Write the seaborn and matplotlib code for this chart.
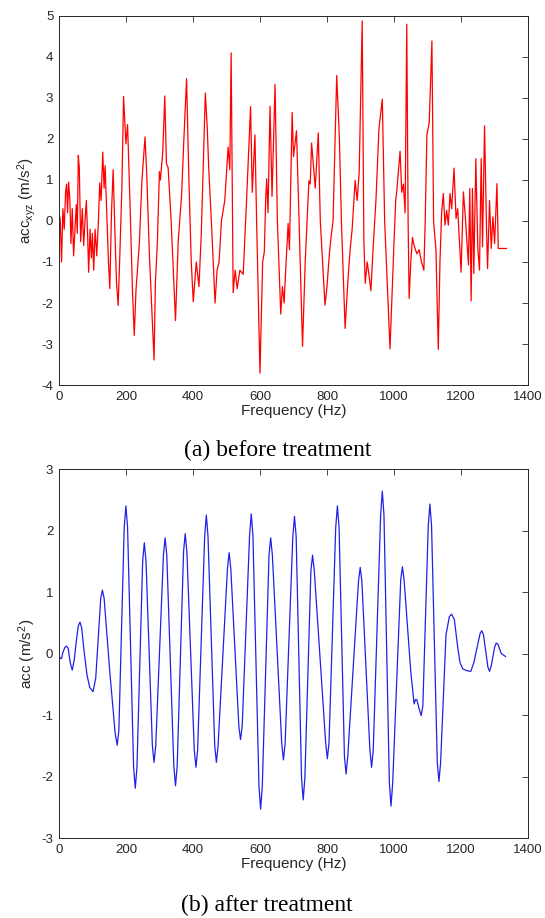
import numpy as np
import pandas as pd
import matplotlib
matplotlib.use('Agg')
import matplotlib.pyplot as plt
import seaborn as sns

# 1. 스타일
sns.set_style('white')
plt.rcParams['font.family'] = ['Liberation Sans', 'DejaVu Sans']
plt.rcParams['mathtext.default'] = 'regular'
plt.rcParams['axes.unicode_minus'] = False

# 2. 데이터
# (a) before treatment
red_freq = [0, 4, 8, 12, 16, 20, 23, 26, 29, 33, 36, 40, 44, 48, 52, 55, 58, 61, 65, 70,
            74, 78, 82, 86, 89, 93, 97, 100, 104, 108, 113, 118, 122, 126, 131, 135, 138, 143, 148, 152,
            157, 162, 167, 172, 177, 182, 188, 193, 200, 205, 212, 220, 225, 230, 240, 248, 257, 262, 270, 284,
            288, 294, 300, 303, 310, 316, 321, 326, 335, 348, 356, 366, 373, 381, 388, 395, 401, 410, 418, 425,
            437, 443, 447, 455, 466, 472, 478, 485, 495, 505, 510, 514, 520, 526, 532, 540, 550, 560, 572, 577,
            585, 590, 600, 608, 613, 617, 620, 624, 630, 636, 645, 652, 662, 667, 672, 678, 684, 688, 692, 696,
            700, 709, 715, 727, 735, 746, 750, 754, 760, 765, 774, 780, 794, 800, 807, 812, 818, 829, 837, 843,
            854, 862, 869, 875, 884, 890, 896, 905, 910, 914, 920, 925, 931, 938, 946, 955, 965, 972, 988, 1000,
            1005, 1008, 1018, 1023, 1028, 1033, 1038, 1042, 1045, 1050, 1055, 1060, 1068, 1075, 1082, 1089, 1093, 1098, 1105, 1113,
            1118, 1125, 1132, 1137, 1142, 1147, 1152, 1157, 1162, 1167, 1172, 1179, 1185, 1190, 1200, 1207, 1213, 1222, 1226, 1230,
            1234, 1238, 1244, 1250, 1255, 1260, 1264, 1270, 1276, 1279, 1285, 1290, 1295, 1300, 1307, 1311, 1336]
red_acc = [0.18, 0.05, -1.0, 0.3, -0.2, 0.7, 0.9, 0.2, 0.95, 0.5, -0.55, 0.3, -0.85, -0.2, 0.4, -0.3, 1.6, 1.3, -0.5, 0.3,
           -0.6, 0.0, 0.5, -0.4, -1.25, -0.2, -0.9, -0.3, -1.2, -0.2, -0.85, 0.0, 0.93, 0.5, 1.68, 0.8, 1.35, 0.2, -1.0, -1.65,
           0.2, 1.25, -0.2, -1.5, -2.06, -0.8, 0.8, 3.04, 1.88, 2.35, 0.5, -1.8, -2.79, -1.7, -0.56, 1.0, 2.05, 1.2, -0.8, -3.39,
           -1.5, -0.5, 1.2, 1.0, 1.68, 3.05, 1.4, 1.3, 0.0, -2.43, -0.5, 0.6, 2.0, 3.47, 1.0, -1.0, -1.97, -1.0, -1.6, -0.3,
           3.12, 2.23, 1.3, 0.0, -2.0, -1.2, -1.0, 0.0, 0.5, 1.8, 1.25, 4.1, -1.75, -1.2, -1.65, -1.2, -1.3, 0.5, 2.79, 0.7,
           2.1, 0.0, -3.71, -1.0, -0.75, 0.5, 1.03, 0.2, 2.8, 0.6, 3.33, 0.0, -2.27, -1.6, -2.0, -1.0, -0.06, -0.7, 1.0, 2.65,
           1.57, 2.2, 0.5, -3.06, -1.0, 0.98, 0.9, 1.9, 1.3, 0.8, 2.15, 0.0, -2.05, -1.6, -0.8, -0.4, 0.0, 3.55, 2.0, 0.0,
           -2.62, -1.5, -0.7, -0.2, 0.99, 0.5, 1.18, 4.88, -0.5, -1.52, -1.0, -1.3, -1.7, -0.6, 0.5, 2.25, 2.97, 0.0, -3.12, -0.5,
           0.5, 0.72, 1.7, 0.7, 0.9, 0.2, 4.8, 0.0, -1.89, -1.0, -0.4, -0.6, -0.8, -0.7, -1.0, -1.2, 0.0, 2.1, 2.4, 4.39,
           0.0, -0.7, -3.13, -1.0, 0.2, 0.67, -0.1, 0.26, -0.1, 0.67, 0.3, 1.29, 0.06, 0.3, -1.25, 0.71, 0.06, -1.07, 0.79, -1.95,
           0.79, -1.28, 1.52, -0.67, -1.2, 1.52, -0.63, 2.32, -0.2, -1.16, 0.5, -0.67, 0.1, -0.55, 0.91, -0.67, -0.67]

# (b) after treatment
blue_freq = [0, 4, 8, 12, 18, 23, 28, 34, 40, 46, 52, 58, 63, 68, 75, 84, 92, 102, 110, 118,
             125, 130, 135, 152, 168, 174, 179, 195, 200, 205, 223, 228, 233, 250, 255, 260, 279, 284, 289, 312,
             317, 322, 343, 348, 353, 372, 377, 382, 404, 409, 414, 435, 440, 445, 465, 470, 475, 503, 508, 513,
             537, 542, 547, 569, 574, 579, 597, 602, 607, 627, 632, 637, 665, 670, 675, 698, 703, 708, 724, 729,
             734, 752, 757, 762, 796, 801, 806, 826, 831, 836, 852, 857, 862, 894, 899, 904, 928, 933, 938, 960,
             965, 970, 986, 991, 996, 1020, 1025, 1030, 1050, 1060, 1064, 1068, 1075, 1081, 1086, 1102, 1107, 1112, 1129, 1134,
             1139, 1155, 1165, 1172, 1180, 1190, 1197, 1205, 1218, 1229, 1238, 1250, 1257, 1262, 1267, 1280, 1285, 1290, 1300, 1305,
             1310, 1320, 1333]
blue_acc = [-0.02, -0.08, -0.08, 0.02, 0.1, 0.12, 0.08, -0.15, -0.27, -0.1, 0.2, 0.45, 0.51, 0.42, 0.05, -0.35, -0.55, -0.62, -0.4, 0.3,
            0.9, 1.03, 0.9, -0.3, -1.3, -1.49, -1.25, 2.05, 2.4, 2.05, -1.85, -2.19, -1.85, 1.5, 1.8, 1.5, -1.5, -1.77, -1.5, 1.6,
            1.88, 1.6, -1.83, -2.15, -1.83, 1.65, 1.95, 1.65, -1.57, -1.85, -1.57, 1.9, 2.25, 1.9, -1.5, -1.77, -1.5, 1.38, 1.64, 1.38,
            -1.18, -1.4, -1.18, 1.92, 2.27, 1.92, -2.15, -2.53, -2.15, 1.6, 1.88, 1.6, -1.47, -1.73, -1.47, 1.9, 2.23, 1.9, -2.02, -2.38,
            -2.02, 1.35, 1.6, 1.35, -1.45, -1.71, -1.45, 2.05, 2.4, 2.05, -1.67, -1.96, -1.67, 1.18, 1.40, 1.18, -1.57, -1.85, -1.57, 2.25,
            2.64, 2.25, -2.1, -2.48, -2.1, 1.2, 1.41, 1.2, -0.3, -0.82, -0.75, -0.75, -0.9, -1.01, -0.85, 2.07, 2.43, 2.07, -1.77, -2.08,
            -1.77, 0.3, 0.6, 0.64, 0.55, 0.1, -0.15, -0.25, -0.28, -0.29, -0.15, 0.15, 0.33, 0.37, 0.3, -0.22, -0.29, -0.2, 0.1, 0.17,
            0.15, 0.0, -0.05]

df_a = pd.DataFrame({'freq': red_freq, 'acc': red_acc})
df_b = pd.DataFrame({'freq': blue_freq, 'acc': blue_acc})

# 3. 그림
fig = plt.figure(figsize=(5.45, 9.18), dpi=100)
ax1 = fig.add_axes([0.108, 0.5806, 0.861, 0.402])
ax2 = fig.add_axes([0.108, 0.0871, 0.861, 0.402])

axis_col = '#262626'
panels = [
    (ax1, df_a, '#ff0000', (-4, 5), range(-4, 6), 'acc$_{xyz}$ (m/s$^2$)'),
    (ax2, df_b, '#2020e8', (-3, 3), range(-3, 4), 'acc (m/s$^2$)'),
]
for ax, d, col, ylim, yticks, ylab in panels:
    sns.lineplot(data=d, x='freq', y='acc', ax=ax, color=col, linewidth=0.9,
                 sort=False, estimator=None)
    ax.lines[0].set_solid_joinstyle('round')
    ax.set_xlim(0, 1400)
    ax.set_ylim(*ylim)
    ax.set_xticks(range(0, 1401, 200))
    ax.set_yticks(list(yticks))
    ax.set_xlabel('Frequency (Hz)', fontsize=11, color=axis_col, labelpad=1)
    ax.set_ylabel(ylab, fontsize=11, color=axis_col)
    ax.yaxis.set_label_coords(-0.045, 0.5)
    ax.tick_params(direction='in', top=True, right=True, length=4, width=0.6,
                   labelsize=9.5, colors=axis_col, pad=4)
    for sp in ax.spines.values():
        sp.set_color(axis_col)
        sp.set_linewidth(0.7)

fig.text(0.51, 1 - 450 / 918, '(a) before treatment', ha='center', va='center',
         family=['Liberation Serif', 'DejaVu Serif'], fontsize=17, color='black')
fig.text(0.49, 1 - 905 / 918, '(b) after treatment', ha='center', va='center',
         family=['Liberation Serif', 'DejaVu Serif'], fontsize=17, color='black')

plt.savefig('out.png', dpi=100)
plt.close()
